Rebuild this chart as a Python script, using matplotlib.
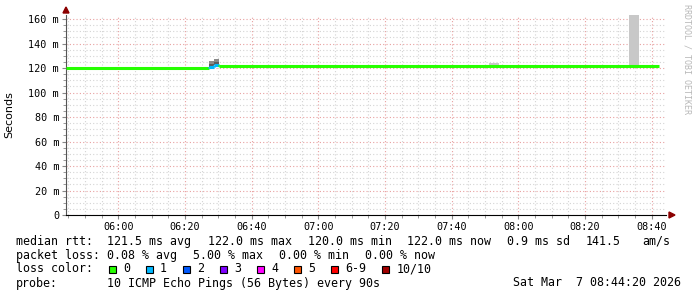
import numpy as np
import pandas as pd
import matplotlib
matplotlib.use("Agg")
import matplotlib.pyplot as plt
import matplotlib.dates as mdates
from matplotlib.patches import Rectangle, Polygon

# Data
day = "2026-03-07 "
t_start = "05:44:20"
t_end = "08:44:20"

# median rtt as steps: value holds from step_times[i] to step_times[i+1]
step_times = ["05:44:20", "06:27:15", "06:28:45", "06:30:15", "08:42:15"]
median_ms = [120.0, 121.0, 122.5, 122.0]
loss_idx = [0, 1, 1, 0]

# smoke (spread of the pings)
smoke_start = ["06:27:15", "06:28:45", "07:51:15", "08:33:15"]
smoke_end = ["06:28:45", "06:30:15", "07:54:15", "08:36:15"]
smoke_low = [121.0, 122.5, 122.0, 122.0]
smoke_high = [125.5, 127.0, 124.5, 170.0]
core_low = [121.0, 122.5, 122.0, 122.0]
core_high = [123.5, 125.0, 122.0, 122.0]

loss_labels = ["0", "1", "2", "3", "4", "5", "6-9", "10/10"]
loss_colors = ["#26ff00", "#00b8ff", "#0059ff", "#7e00ff", "#ff00ff",
               "#ff5500", "#ff0000", "#a10000"]

rtt_line = [(16, "median rtt:"), (107, "121.5 ms avg"), (208, "122.0 ms max"),
            (308, "120.0 ms min"), (407, "122.0 ms now"), (507, "0.9 ms sd"),
            (586, "141.5"), (642, "am/s")]
loss_line = [(16, "packet loss:"), (107, "0.08 % avg"), (193, "5.00 % max"),
             (279, "0.00 % min"), (365, "0.00 % now")]
probe_text = "10 ICMP Echo Pings (56 Bytes) every 90s"
date_text = "Sat Mar  7 08:44:20 2026"

W, H = 697, 297
def T(s):
    return mdates.date2num(pd.Timestamp(day + s))
def fx(x):
    return x / W
def fy(y):
    return 1 - y / H

mono = "DejaVu Sans Mono"
fig = plt.figure(figsize=(W / 100, H / 100), dpi=100)
ax = fig.add_axes([fx(66), fy(215), 600 / W, 200 / H])
ax.set_xlim(T(t_start), T(t_end))
ax.set_ylim(0, 163.3)

# grid
ax.xaxis.set_major_locator(mdates.MinuteLocator(byminute=range(0, 60, 20)))
ax.xaxis.set_minor_locator(mdates.MinuteLocator(byminute=range(0, 60, 5)))
ax.xaxis.set_major_formatter(mdates.DateFormatter("%H:%M"))
ax.yaxis.set_major_locator(plt.MultipleLocator(20))
ax.yaxis.set_minor_locator(plt.MultipleLocator(5))
ax.yaxis.set_major_formatter(plt.FuncFormatter(lambda v, p: "0" if v == 0 else "%d m" % v))
ax.grid(True, which="minor", color="#d4d4d4", linestyle=(0, (1, 2)), lw=0.8)
ax.grid(True, which="major", color="#e8a0a0", linestyle=(0, (1, 2)), lw=0.8)
ax.set_axisbelow(True)

# smoke
for i in range(len(smoke_start)):
    a, b = T(smoke_start[i]), T(smoke_end[i])
    dense = core_high[i] > core_low[i]
    ax.fill_between([a, b], smoke_low[i], smoke_high[i],
                    color="#8a8a8a" if dense else "#c8c8c8", lw=0, zorder=2)
    if dense:
        ax.fill_between([a, b], core_low[i], core_high[i], color="#5c5c5c", lw=0, zorder=2)

# median line coloured by loss
for i in range(len(median_ms)):
    a, b = T(step_times[i]), T(step_times[i + 1])
    c = loss_colors[loss_idx[i]]
    ax.hlines(median_ms[i], a, b, color=c, lw=2.2, zorder=3)
    if i > 0:
        ax.vlines(a, median_ms[i - 1], median_ms[i], color=c, lw=2.2, zorder=3)

for s in ["top", "right"]:
    ax.spines[s].set_visible(False)
ax.spines["left"].set_color("#555555")
ax.spines["bottom"].set_color("#000000")
ax.tick_params(which="both", colors="#888888", labelcolor="black")
ax.tick_params(which="major", length=3, width=0.8)
ax.tick_params(which="minor", length=2, width=0.6)
ax.tick_params(axis="x", pad=2)
ax.tick_params(axis="y", pad=2)
for lab in ax.get_xticklabels() + ax.get_yticklabels():
    lab.set_fontfamily(mono)
    lab.set_fontsize(7.3)
ax.set_ylabel("Seconds", fontsize=8, labelpad=10)

# arrows
fig.patches.append(Polygon([[fx(63), fy(13)], [fx(69), fy(13)], [fx(66), fy(7)]],
                           closed=True, color="#8b0000", transform=fig.transFigure))
fig.patches.append(Polygon([[fx(669), fy(212)], [fx(669), fy(218)], [fx(675), fy(215)]],
                           closed=True, color="#8b0000", transform=fig.transFigure))

fig.text(fx(687), fy(4), "RRDTOOL / TOBI OETIKER", rotation=-90, ha="center", va="top",
         fontsize=6, family=mono, color="#b8b8b8")

# legend text
fs = 8.4
cw = 7.03
for x, s in rtt_line:
    fig.text(fx(x), fy(241.5), s, fontsize=fs, family=mono, va="center")
for x, s in loss_line:
    fig.text(fx(x), fy(255.5), s, fontsize=fs, family=mono, va="center")
fig.text(fx(16), fy(269), "loss color:", fontsize=fs, family=mono, va="center")
bx = 109
for lab, col in zip(loss_labels, loss_colors):
    fig.patches.append(Rectangle((fx(bx), fy(272.5)), 7 / W, 7 / H, facecolor=col,
                                 edgecolor="black", lw=0.8, transform=fig.transFigure))
    fig.text(fx(bx + 14), fy(269), lab, fontsize=fs, family=mono, va="center")
    bx = bx + 14 + len(lab) * cw + 16
fig.text(fx(16), fy(283), "probe:", fontsize=fs, family=mono, va="center")
fig.text(fx(107), fy(283), probe_text, fontsize=fs, family=mono, va="center")
fig.text(fx(513), fy(283), date_text, fontsize=fs, family=mono, va="center")

fig.savefig("out.png", dpi=100)
